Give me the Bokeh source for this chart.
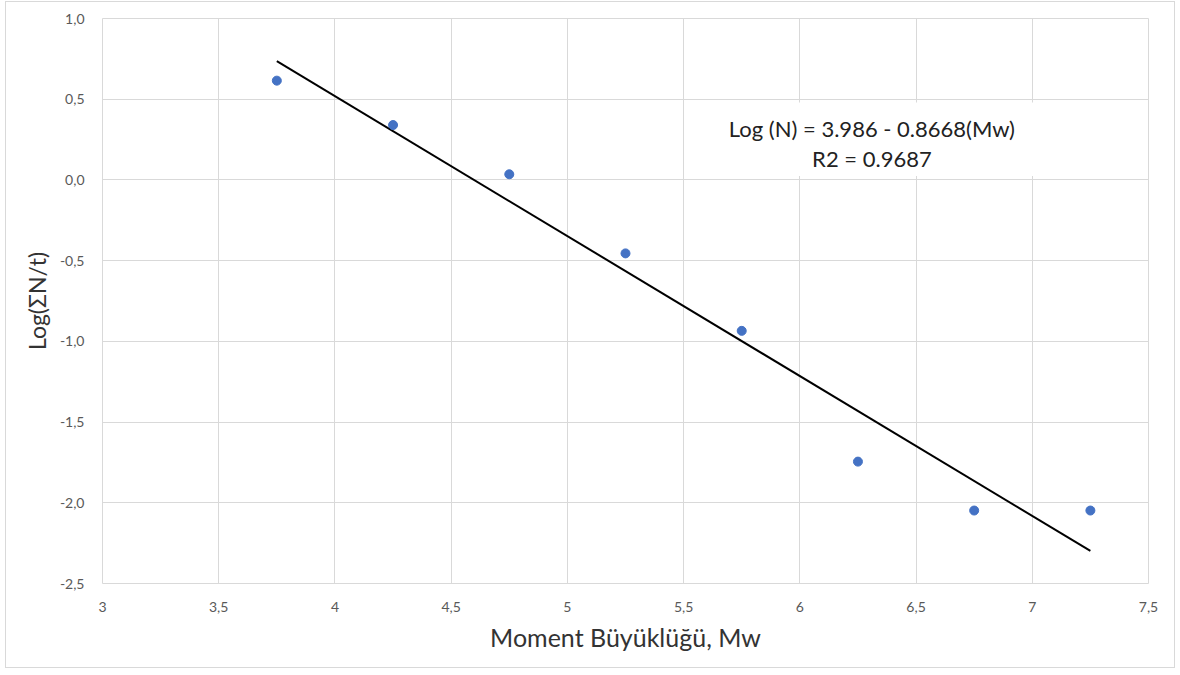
from bokeh.plotting import figure
from bokeh.models import Range1d, Label, BoxAnnotation, FixedTicker
from bokeh.embed import file_html
from bokeh.resources import INLINE

# Data
magnitudes = [3.75, 4.25, 4.75, 5.25, 5.75, 6.25, 6.75, 7.25]
log_rates = [0.615, 0.34, 0.035, -0.455, -0.935, -1.745, -2.048, -2.048]
fit_intercept = 3.986
fit_slope = -0.8668
r2 = 0.9687

x_ticks = [3, 3.5, 4, 4.5, 5, 5.5, 6, 6.5, 7, 7.5]
x_tick_labels = ["3", "3,5", "4", "4,5", "5", "5,5", "6", "6,5", "7", "7,5"]
y_ticks = [-2.5, -2.0, -1.5, -1.0, -0.5, 0.0, 0.5, 1.0]
y_tick_labels = ["-2,5", "-2,0", "-1,5", "-1,0", "-0,5", "0,0", "0,5", "1,0"]

FONT = "Lato"
GRID = "#d9d9d9"

p = figure(width=1170, height=667, output_backend="svg", toolbar_location=None,
           x_range=Range1d(3, 7.5), y_range=Range1d(-2.5, 1.0),
           min_border_left=96, min_border_right=28, min_border_top=16, min_border_bottom=86)
p.styles = {"border": "1px solid #d9d9d9", "margin": "1px 0 0 5px"}
p.outline_line_color = GRID
p.background_fill_color = "white"
p.border_fill_color = "white"

for ax, ticks, labels in ((p.xaxis, x_ticks, x_tick_labels), (p.yaxis, y_ticks, y_tick_labels)):
    ax.ticker = FixedTicker(ticks=ticks)
    ax.major_label_overrides = {t: l for t, l in zip(ticks, labels)}
    ax.axis_line_color = None
    ax.major_tick_line_color = None
    ax.minor_tick_line_color = None
    ax.major_label_text_font = FONT
    ax.major_label_text_font_size = "14px"
    ax.major_label_text_color = "#595959"
    ax.axis_label_text_font = FONT
    ax.axis_label_text_font_style = "normal"
    ax.axis_label_text_color = "#333333"

p.xaxis.major_label_standoff = 12
p.yaxis.major_label_standoff = 12
p.xaxis.axis_label = "Moment Büyüklüğü, Mw"
p.xaxis.axis_label_text_font_size = "25px"
p.xaxis.axis_label_standoff = 7
p.yaxis.axis_label = "Log(ΣN/t)"
p.yaxis.axis_label_text_font_size = "23px"
p.yaxis.axis_label_standoff = 6

p.xgrid.ticker = FixedTicker(ticks=x_ticks)
p.ygrid.ticker = FixedTicker(ticks=y_ticks)
p.xgrid.grid_line_color = GRID
p.ygrid.grid_line_color = GRID

# Trend line from the printed equation
x_fit = [magnitudes[0], magnitudes[-1]]
y_fit = [fit_intercept + fit_slope * x for x in x_fit]
p.line(x_fit, y_fit, line_color="black", line_width=2)

p.scatter(magnitudes, log_rates, size=9, fill_color="#4472C4", line_color="#4472C4")

# Equation box
p.add_layout(BoxAnnotation(left=5.63, right=7.13, top=0.48, bottom=0.025,
                           fill_color="white", fill_alpha=1.0, line_color=None))
p.add_layout(Label(x=6.31, y=0.32, text="Log (N) = 3.986 - 0.8668(Mw)",
                   text_align="center", text_baseline="middle",
                   text_font=FONT, text_font_size="22px", text_color="#222222"))
p.add_layout(Label(x=6.31, y=0.135, text="R2 = %.4f" % r2,
                   text_align="center", text_baseline="middle",
                   text_font=FONT, text_font_size="22px", text_color="#222222"))

open("out.html", "w").write(file_html(p, INLINE))
